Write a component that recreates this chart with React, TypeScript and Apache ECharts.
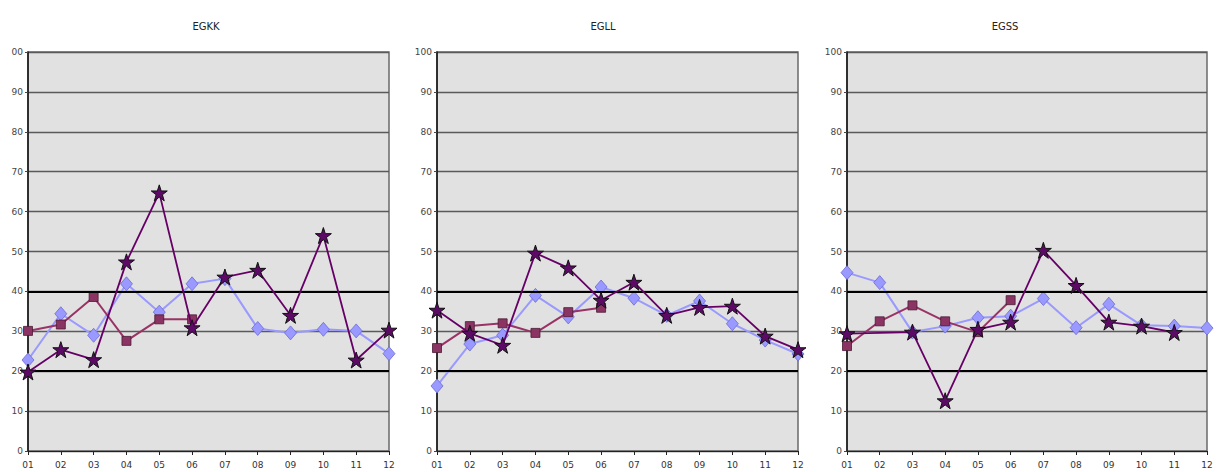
import React, { useEffect, useRef } from "react";
import * as echarts from "echarts";

const months = ["01", "02", "03", "04", "05", "06", "07", "08", "09", "10", "11", "12"];
const titles = ["EGKK", "EGLL", "EGSS"];

// EGKK
const egkkDiamond = [22.8, 34.4, 29, 41.9, 34.8, 41.9, 43.2, 30.7, 29.6, 30.5, 30.1, 24.4];
const egkkSquare = [30.1, 31.7, 38.6, 27.6, 33, 33];
const egkkStar = [19.8, 25.4, 22.9, 47.4, 64.7, 30.9, 43.6, 45.3, 34, 54, 22.8, 30.3];

// EGLL
const egllDiamond = [16.3, 26.8, 29, 39, 33.6, 41.1, 38.3, 34, 37.6, 31.9, 27.8, 24.3];
const egllSquare = [25.8, 31.3, 32, 29.6, 34.8, 35.9];
const egllStar = [35.3, 29.5, 26.5, 49.6, 45.9, 37.8, 42.3, 34, 36, 36.3, 28.8, 25.4];

// EGSS
const egssDiamond = [44.7, 42.2, 29.8, 31.3, 33.4, 33.8, 38.2, 30.9, 36.8, 31.5, 31.3, 30.8];
const egssSquare = [26.3, 32.5, 36.5, 32.5, 29.8, 37.8];
const egssStar = [29.4, null, 29.8, 12.6, 30.5, 32.3, 50.3, 41.5, 32.3, 31.3, 29.7, null];

const emphasisLines = [20, 40];

const panels = [
  { diamond: egkkDiamond, square: egkkSquare, star: egkkStar },
  { diamond: egllDiamond, square: egllSquare, star: egllStar },
  { diamond: egssDiamond, square: egssSquare, star: egssStar },
];

const STAR = "path://M50,0 L61.8,35.4 L99,35.4 L69,57.3 L80.4,92.7 L50,70.8 L19.6,92.7 L31,57.3 L1,35.4 L38.2,35.4 Z";

const gridLefts = [28, 437, 847];
const gridWidths = [361, 361, 360];
const titleCenters = [201, 598, 1000];

export default function App() {
  const ref = useRef<HTMLDivElement>(null);
  useEffect(() => {
    if (!ref.current) return;
    const chart = echarts.init(ref.current, null, { renderer: "svg" });
    const font = "'DejaVu Sans', sans-serif";
    const grids = gridLefts.map((l, i) => ({
      left: l,
      top: 52,
      width: gridWidths[i],
      height: 399,
      show: true,
      backgroundColor: "#e1e1e1",
      borderColor: "#6a6a6a",
      borderWidth: 1.5,
    }));
    const xAxes = gridLefts.map((_, i) => ({
      type: "category",
      gridIndex: i,
      data: months,
      boundaryGap: false,
      axisLine: { lineStyle: { color: "#222", width: 1.2 } },
      axisTick: { show: true, alignWithLabel: true, length: 4, lineStyle: { color: "#222" } },
      axisLabel: { fontSize: 9, color: "#333", fontFamily: font, margin: 9 },
    }));
    const yAxes = gridLefts.map((_, i) => ({
      type: "value",
      gridIndex: i,
      min: 0,
      max: 100,
      interval: 10,
      axisLine: { show: true, lineStyle: { color: "#111", width: 1.5 } },
      axisTick: { show: true, length: 3, lineStyle: { color: "#444" } },
      axisLabel: { fontSize: 9, color: "#444", fontFamily: font, margin: 5 },
      splitLine: { show: true, lineStyle: { color: "#5a5a5a", width: 1.3 } },
    }));
    const series: any[] = [];
    panels.forEach((p, i) => {
      series.push({
        type: "line",
        xAxisIndex: i,
        yAxisIndex: i,
        data: [],
        z: 1,
        silent: true,
        markLine: {
          silent: true,
          symbol: "none",
          label: { show: false },
          lineStyle: { color: "#000", width: 2, type: "solid" },
          data: emphasisLines.map((v) => ({ yAxis: v })),
        },
      });
      series.push({
        type: "line",
        xAxisIndex: i,
        yAxisIndex: i,
        data: p.diamond,
        symbol: "diamond",
        symbolSize: [12, 14],
        lineStyle: { color: "#9999ff", width: 2 },
        itemStyle: { color: "#9999ff", borderColor: "#6b6bd6", borderWidth: 0.8 },
        z: 3,
      });
      series.push({
        type: "line",
        xAxisIndex: i,
        yAxisIndex: i,
        data: p.square,
        symbol: "rect",
        symbolSize: 9,
        lineStyle: { color: "#993366", width: 2 },
        itemStyle: { color: "#8b3464", borderColor: "#4a1a33", borderWidth: 0.8 },
        z: 4,
      });
      series.push({
        type: "line",
        xAxisIndex: i,
        yAxisIndex: i,
        data: p.star,
        connectNulls: true,
        symbol: STAR,
        symbolSize: 16,
        lineStyle: { color: "#660066", width: 1.8 },
        itemStyle: { color: "#5c0a66", borderColor: "#111", borderWidth: 1 },
        z: 5,
      });
    });
    chart.setOption({
      animation: false,
      backgroundColor: "#ffffff",
      title: titles.map((t, i) => ({
        text: t,
        left: titleCenters[i],
        top: 16,
        textAlign: "center",
        textStyle: { fontSize: 10, fontWeight: "normal", color: "#222", fontFamily: font },
      })),
      grid: grids,
      xAxis: xAxes,
      yAxis: yAxes,
      series,
      graphic: [
        {
          type: "rect",
          z: 100,
          shape: { x: 0, y: 0, width: 11, height: 472 },
          style: { fill: "#ffffff" },
          silent: true,
        },
      ],
    });
    return () => chart.dispose();
  }, []);
  return (
    <div
      ref={ref}
      style={{ position: "absolute", left: 0, top: 0, width: 1226, height: 472 }}
    />
  );
}
